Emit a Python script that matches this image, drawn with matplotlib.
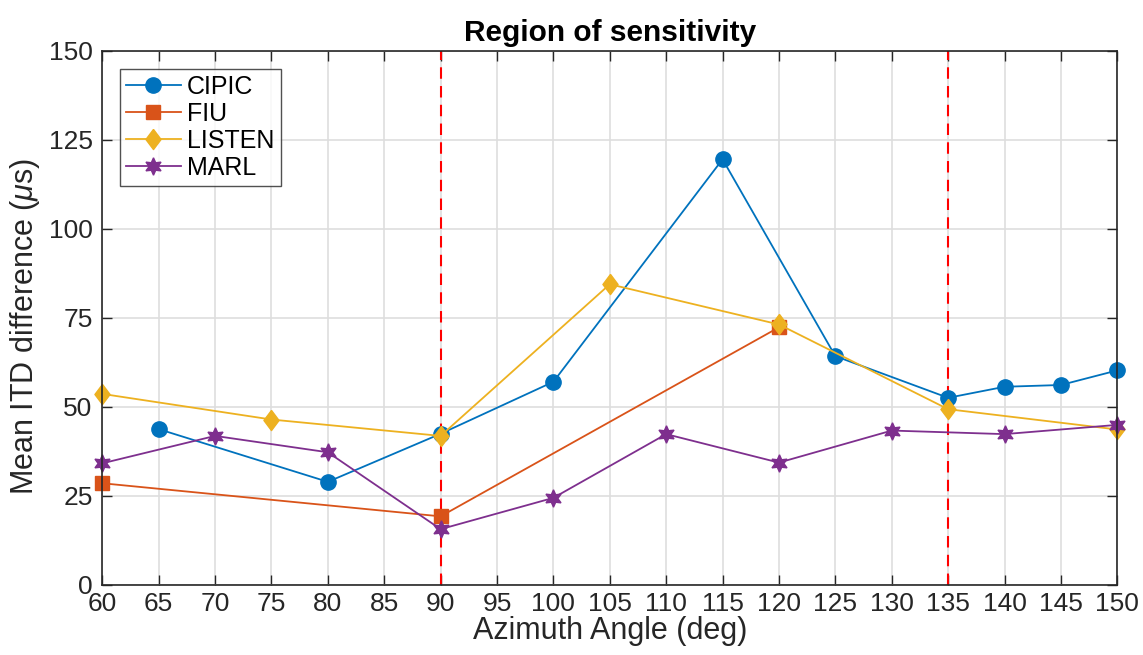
import numpy as np
import matplotlib.pyplot as plt

plt.rcParams['font.family'] = ['Liberation Sans', 'DejaVu Sans']
plt.rcParams['mathtext.fontset'] = 'custom'
plt.rcParams['mathtext.it'] = 'Liberation Sans:italic'
plt.rcParams['mathtext.rm'] = 'Liberation Sans'

# data
cipic_x = [65, 80, 90, 100, 115, 125, 135, 140, 145, 150]
cipic_y = [43.7, 28.9, 42.4, 57.0, 119.5, 64.2, 52.5, 55.6, 56.1, 60.2]

fiu_x = [60, 90, 120]
fiu_y = [28.5, 19.2, 72.3]

listen_x = [60, 75, 90, 105, 120, 135, 150]
listen_y = [53.6, 46.4, 41.8, 84.4, 73.1, 49.3, 43.6]

marl_x = [60, 70, 80, 90, 100, 110, 120, 130, 140, 150]
marl_y = [34.1, 41.8, 37.2, 15.6, 24.4, 42.3, 34.3, 43.3, 42.3, 44.9]

region_lines = [90, 135]

# matlab-style diamond (taller than wide)
diamond = [(0, 1), (0.75, 0), (0, -1), (-0.75, 0), (0, 1)]

fig = plt.figure(figsize=(11.43, 6.55), dpi=100)
ax = fig.add_axes([0.0895, 0.1073, 0.888, 0.8153])

ax.plot(cipic_x, cipic_y, '-o', color='#0072BD', lw=1.3, ms=11, label='CIPIC', clip_on=False)
ax.plot(fiu_x, fiu_y, '-s', color='#D95319', lw=1.3, ms=9.5, label='FIU', clip_on=False)
ax.plot(listen_x, listen_y, '-', marker=diamond, color='#EDB120', lw=1.3, ms=14.5,
        label='LISTEN', clip_on=False)
ax.plot(marl_x, marl_y, '-', marker=(6, 1, 0), color='#7E2F8E', lw=1.3, ms=12.5,
        label='MARL', clip_on=False)

for xv in region_lines:
    ax.axvline(xv, color='red', ls=(0, (5.5, 3.5)), lw=1.5, zorder=1)

ax.set_xlim(60, 150)
ax.set_ylim(0, 150)
ax.set_xticks(np.arange(60, 151, 5))
ax.set_yticks(np.arange(0, 151, 25))
ax.grid(True, color='#dedede', lw=1.2)
ax.set_axisbelow(True)
ax.tick_params(direction='in', top=True, right=True, labelsize=19,
               length=7, width=1, color='#262626', labelcolor='#262626')
ax.tick_params(axis='x', pad=5)
ax.tick_params(axis='y', pad=7)
for s in ax.spines.values():
    s.set_color('#262626')
    s.set_linewidth(1.2)

ax.set_xlabel('Azimuth Angle (deg)', fontsize=22, color='#262626', labelpad=0)
ax.set_ylabel(r'Mean ITD difference ($\mu$s)', fontsize=22, color='#262626')
ax.yaxis.set_label_coords(-0.059, 0.484)
ax.set_title('Region of sensitivity', fontsize=21.5, fontweight='bold', pad=7)

leg = ax.legend(loc='upper left', bbox_to_anchor=(0.017, 0.966), fontsize=18,
                frameon=True, fancybox=False, edgecolor='#262626',
                handlelength=2.2, borderpad=0.25, labelspacing=0.12,
                handletextpad=0.25, borderaxespad=0)
leg.get_frame().set_linewidth(1.0)

fig.savefig('out.png', dpi=100)
